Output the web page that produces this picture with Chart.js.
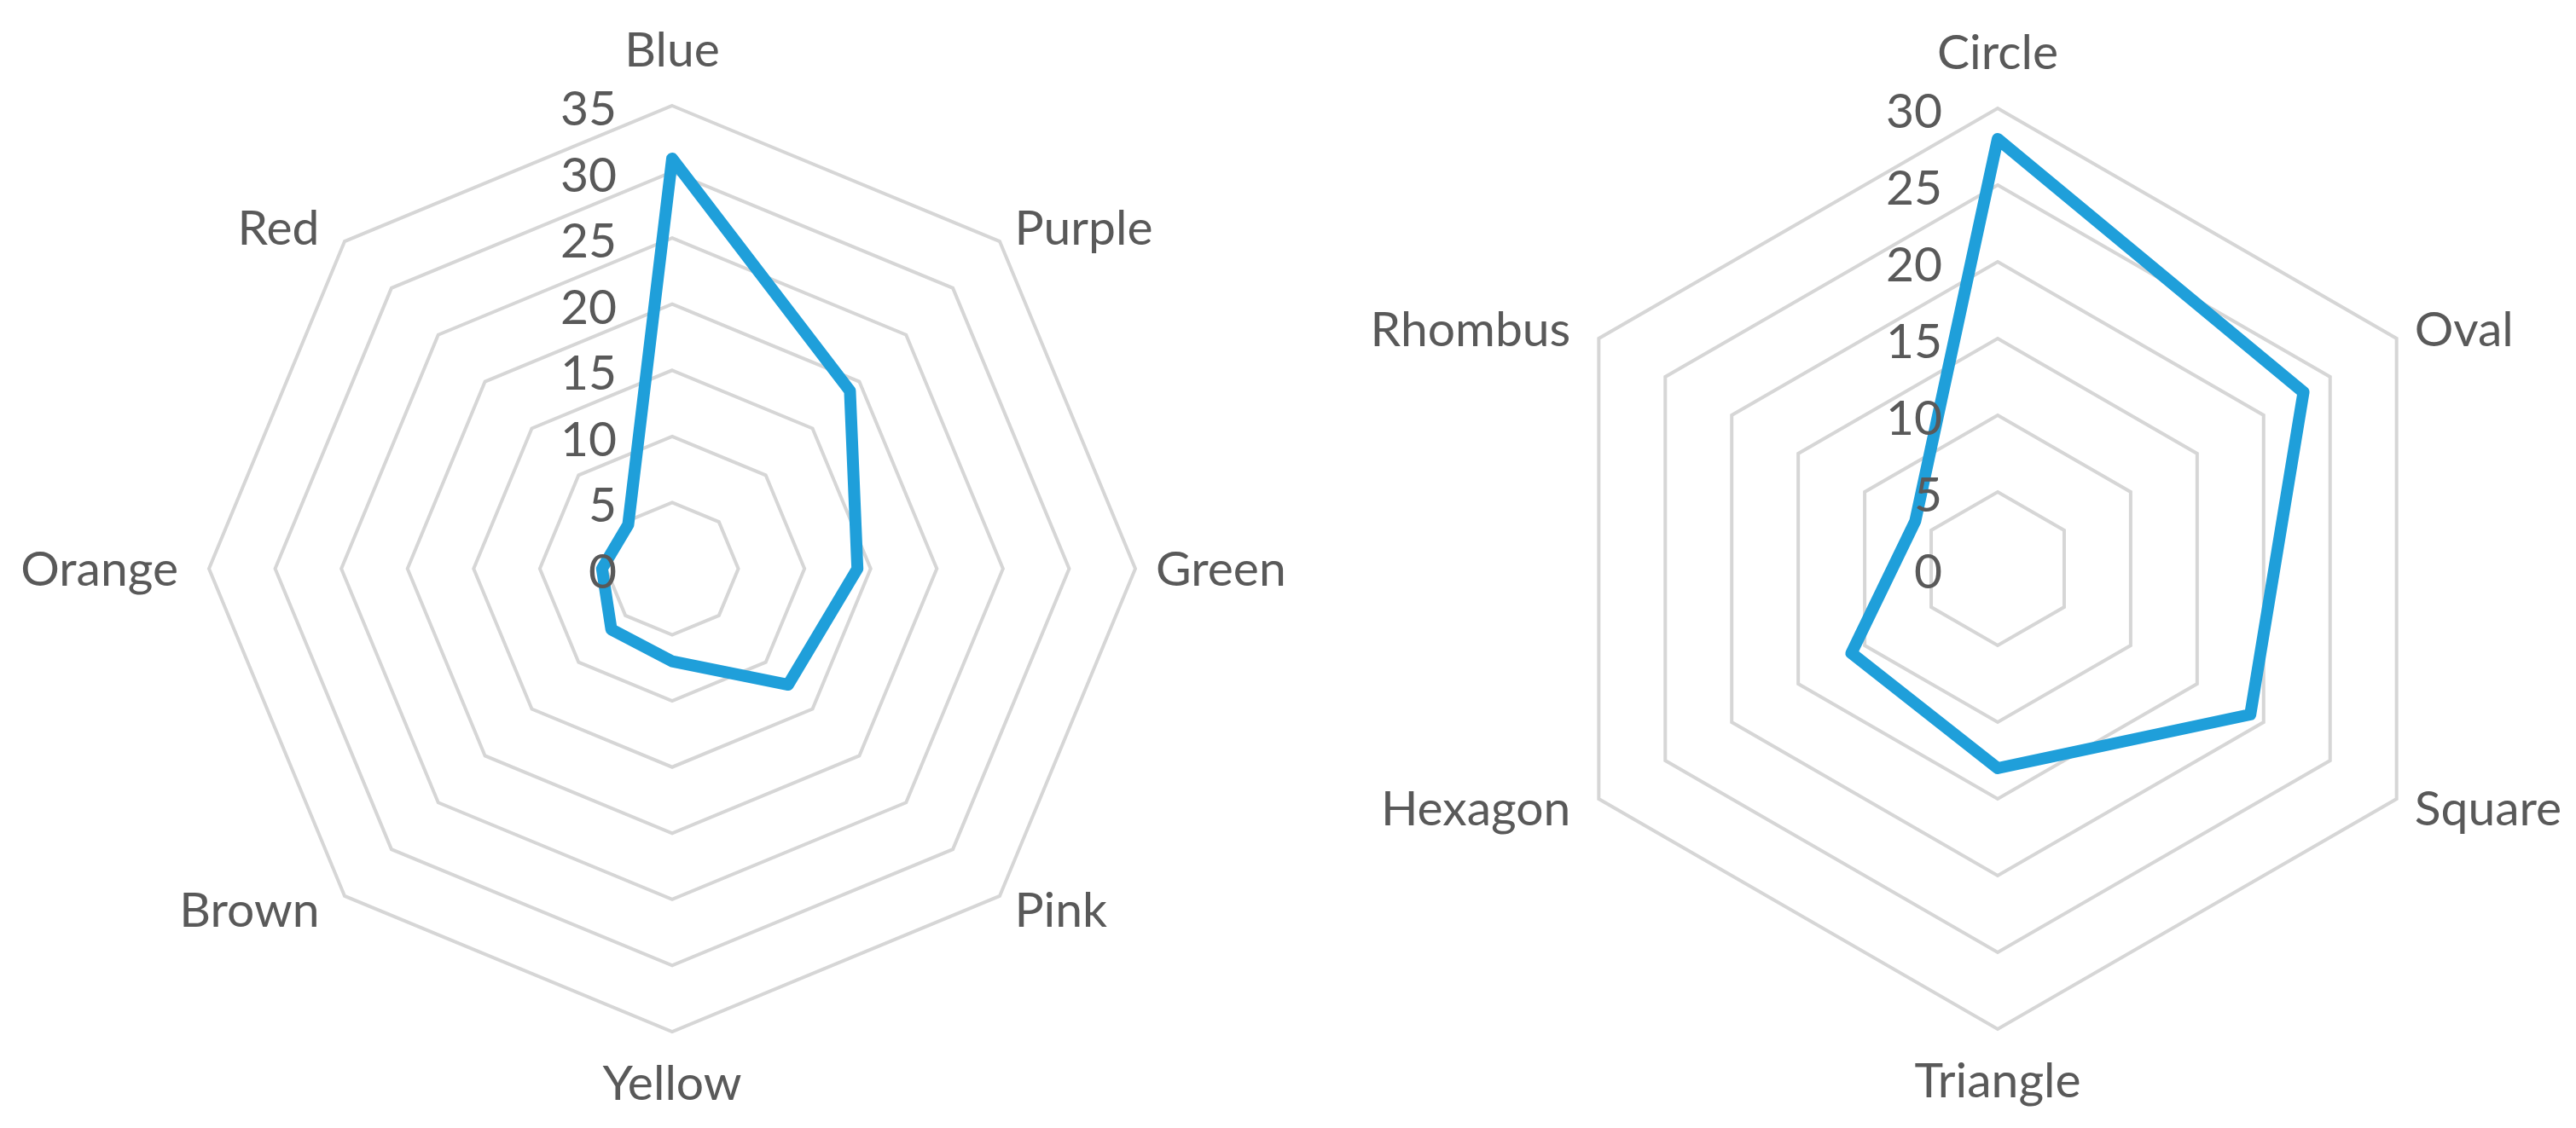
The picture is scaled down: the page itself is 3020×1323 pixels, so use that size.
<!DOCTYPE html>
<html>
<head>
<meta charset="utf-8">
<title>Radar charts</title>
<script src="https://cdn.jsdelivr.net/npm/chart.js@4/dist/chart.umd.min.js"></script>
<style>
  html, body { margin: 0; padding: 0; background: #fff; overflow: hidden; }
  body { width: 3020px; height: 1323px; position: relative; }
  canvas { position: absolute; top: 0; }
  #colors { left: 0; }
  #shapes { left: 1540px; }
</style>
</head>
<body>
<canvas id="colors" width="1560" height="1323"></canvas>
<canvas id="shapes" width="1480" height="1323"></canvas>
<script>
// left chart
const colorLabels = ['Blue', 'Purple', 'Green', 'Pink', 'Yellow', 'Brown', 'Orange', 'Red'];
const colorValues = [31, 19, 14, 12.4, 7, 6.5, 5.3, 4.7];
const colorTicks = [0, 5, 10, 15, 20, 25, 30, 35];

// right chart
const shapeLabels = ['Circle', 'Oval', 'Square', 'Triangle', 'Hexagon', 'Rhombus'];
const shapeValues = [28, 23, 19, 13, 11, 6.2];
const shapeTicks = [0, 5, 10, 15, 20, 25, 30];

const FONT = '57px Lato';
const TEXT = '#595959';
const LINE = '#1f9fda';
const GRID = '#d6d6d6';

// Excel style labels: ticks left of the vertical axis, categories hugging the vertices
const excelLabels = {
    id: 'excelLabels',
    afterDraw(chart) {
        const s = chart.scales.r;
        const ctx = chart.ctx;
        ctx.save();
        ctx.font = FONT;
        ctx.fillStyle = TEXT;
        ctx.textBaseline = 'alphabetic';

        ctx.textAlign = 'right';
        s.ticks.forEach(t => {
            const y = s.yCenter - s.getDistanceFromCenterForValue(t.value);
            ctx.fillText(t.label, s.xCenter - 65, y + 23);
        });

        chart.data.labels.forEach((lab, i) => {
            const p = s.getPointPosition(i, s.drawingArea + 22);
            const dx = p.x - s.xCenter;
            let x = p.x;
            let y = p.y + 20;
            if (Math.abs(dx) < 1) {
                ctx.textAlign = 'center';
                y = p.y < s.yCenter ? p.y - 24 : p.y + 58;
            } else if (dx > 0) {
                ctx.textAlign = 'left';
                x += 2;
            } else {
                ctx.textAlign = 'right';
                x -= 14;
            }
            ctx.fillText(lab, x, y);
        });
        ctx.restore();
    }
};

function radar(id, labels, values, ticks, padding) {
    const ctx = document.getElementById(id).getContext('2d');
    return new Chart(ctx, {
        type: 'radar',
        data: {
            labels: labels,
            datasets: [{
                data: values,
                borderColor: LINE,
                borderWidth: 14,
                borderJoinStyle: 'round',
                borderCapStyle: 'round',
                fill: false,
                pointRadius: 0,
                pointHoverRadius: 0
            }]
        },
        options: {
            responsive: false,
            animation: false,
            devicePixelRatio: 1,
            layout: { padding: padding },
            plugins: {
                legend: { display: false },
                tooltip: { enabled: false }
            },
            scales: {
                r: {
                    min: ticks[0],
                    max: ticks[ticks.length - 1],
                    afterBuildTicks: sc => {
                        sc.ticks = ticks.map(v => ({ value: v }));
                    },
                    ticks: { display: false },
                    pointLabels: { display: false },
                    angleLines: { display: false },
                    grid: { color: GRID, lineWidth: 4 }
                }
            }
        },
        plugins: [excelLabels]
    });
}

radar('colors', colorLabels, colorValues, colorTicks, { left: 245, right: 229, top: 124, bottom: 113 });
radar('shapes', shapeLabels, shapeValues, shapeTicks, { left: 262, right: 138, top: 127, bottom: 116 });
</script>
</body>
</html>
